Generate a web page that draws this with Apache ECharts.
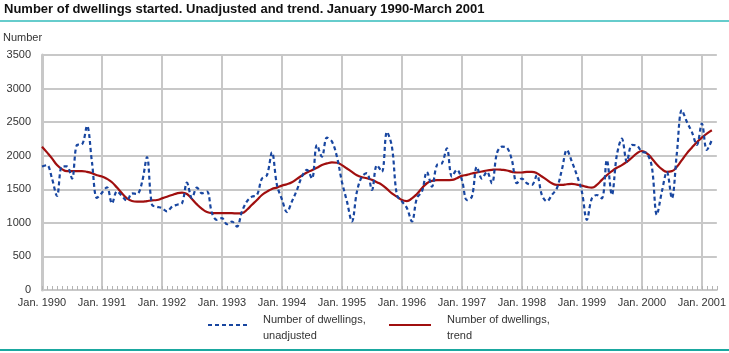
<!DOCTYPE html>
<html>
<head>
<meta charset="utf-8">
<script src="https://cdn.jsdelivr.net/npm/echarts@6/dist/echarts.min.js"></script>
<style>
* { margin: 0; padding: 0; }
body { background: #fff; }
#main { width: 729px; height: 353px; }
</style>
</head>
<body>
<!-- container for the chart -->
<div id="main"></div>
<script>
// tick labels on the x axis, one per January
var yearLabels = ["Jan. 1990", "Jan. 1991", "Jan. 1992", "Jan. 1993", "Jan. 1994", "Jan. 1995",
  "Jan. 1996", "Jan. 1997", "Jan. 1998", "Jan. 1999", "Jan. 2000", "Jan. 2001"];
var yTicks = [0, 500, 1000, 1500, 2000, 2500, 3000, 3500];

// monthly values, January 1990 - March 2001
var unadjusted = [
  1840, 1860, 1660, 1400, 1840, 1840, 1660, 2160, 2170, 2445, 1900, 1370, // 1990
  1450, 1530, 1290, 1470, 1400, 1330, 1440, 1430, 1600, 1980, 1270, 1240, // 1991
  1220, 1170, 1240, 1270, 1290, 1600, 1370, 1525, 1440, 1465, 1145, 1045, // 1992
  1070, 980, 1020, 945, 1170, 1320, 1390, 1415, 1660, 1710, 2050, 1565,   // 1993
  1350, 1160, 1320, 1490, 1690, 1790, 1660, 2160, 1985, 2270, 2210, 1985, // 1994
  1610, 1320, 1020, 1465, 1690, 1740, 1490, 1860, 1760, 2355, 2135, 1415, // 1995
  1320, 1220, 1020, 1370, 1465, 1760, 1540, 1860, 1885, 2110, 1690, 1790, // 1996
  1640, 1340, 1390, 1835, 1660, 1760, 1590, 2035, 2135, 2120, 1935, 1590, // 1997
  1660, 1590, 1565, 1710, 1415, 1320, 1415, 1515, 1790, 2085, 1910, 1710, // 1998
  1465, 1045, 1365, 1415, 1365, 1935, 1415, 2010, 2255, 1910, 2160, 2150, // 1999
  2060, 2035, 1835, 1120, 1465, 1760, 1365, 2035, 2680, 2505, 2355, 2160, // 2000
  2480, 2085, 2235                                                        // 2001
];
var trend = [
  2135, 2050, 1960, 1860, 1800, 1770, 1770, 1770, 1770, 1760, 1740, 1710,
  1690, 1655, 1605, 1525, 1440, 1365, 1325, 1315, 1315, 1325, 1335, 1340,
  1365, 1390, 1415, 1440, 1450, 1430, 1355, 1275, 1210, 1160, 1145, 1145,
  1145, 1145, 1145, 1140, 1145, 1195, 1270, 1340, 1415, 1465, 1505, 1525,
  1555, 1575, 1605, 1655, 1705, 1750, 1785, 1820, 1860, 1885, 1900, 1895,
  1860, 1810, 1760, 1710, 1680, 1665, 1640, 1605, 1565, 1505, 1440, 1390,
  1340, 1325, 1365, 1430, 1515, 1590, 1625, 1635, 1635, 1635, 1640, 1665,
  1700, 1715, 1735, 1750, 1765, 1780, 1790, 1795, 1790, 1780, 1760, 1750,
  1750, 1760, 1760, 1740, 1690, 1640, 1590, 1565, 1565, 1575, 1580, 1570,
  1555, 1535, 1525, 1565, 1640, 1710, 1770, 1820, 1860, 1910, 1970, 2035,
  2070, 2035, 1960, 1870, 1800, 1760, 1770, 1835, 1935, 2035, 2120, 2200,
  2270, 2330, 2380
];

var titleText = "Number of dwellings started. Unadjusted and trend. January 1990-March 2001";
var gridColor = "#c8c8c8";
var blue = "#1846a0";
var red = "#a00f0f";
var font = "Liberation Sans";

// one category per month, plus one empty slot so the axis runs a little past March 2001
var months = [];
for (var i = 0; i < 136; i++) {
  months.push(i % 12 === 0 ? yearLabels[i / 12] : "");
}
var isYear = function (i) { return i % 12 === 0; };

var chart = echarts.init(document.getElementById("main"));
chart.setOption({
  animation: false,
  grid: { left: 42, right: 12, top: 55, bottom: 63 },
  xAxis: {
    type: "category",
    data: months,
    boundaryGap: false,
    axisLine: { lineStyle: { color: gridColor, width: 2 } },
    axisTick: { inside: true, interval: 0, length: 4, lineStyle: { color: "#b4b4b4" } },
    axisLabel: {
      interval: function (i) { return isYear(i); },
      color: "#333", fontFamily: font, fontSize: 11, margin: 7
    },
    splitLine: {
      show: true,
      interval: function (i) { return isYear(i) && i > 0; },
      lineStyle: { color: gridColor, width: 2 }
    }
  },
  yAxis: {
    type: "value",
    min: yTicks[0],
    max: yTicks[yTicks.length - 1],
    interval: 500,
    axisLine: { show: true, lineStyle: { color: gridColor, width: 3 } },
    axisTick: { show: false },
    axisLabel: {
      color: "#333", fontFamily: font, fontSize: 11, margin: 11,
      formatter: function (v) { return String(v); }
    },
    splitLine: { lineStyle: { color: gridColor, width: 2 } }
  },
  series: [
    {
      name: "Number of dwellings, unadjusted",
      type: "line",
      data: unadjusted,
      smooth: 0.35,
      showSymbol: false,
      lineStyle: { color: blue, width: 2.2, type: [4, 3] },
      z: 3
    },
    {
      name: "Number of dwellings, trend",
      type: "line",
      data: trend,
      smooth: true,
      showSymbol: false,
      lineStyle: { color: red, width: 2.2 },
      z: 2
    }
  ],
  // title, rules, axis name and the legend
  graphic: [
    { type: "text", left: 4, top: 3, style: { text: titleText, font: "bold 13px " + font, fill: "#111" } },
    { type: "rect", left: 0, top: 20, shape: { width: 729, height: 2 }, style: { fill: "#66cccc" } },
    { type: "text", left: 3, top: 32, style: { text: "Number", font: "11px " + font, fill: "#333" } },
    { type: "line", shape: { x1: 208, y1: 325, x2: 250, y2: 325 }, style: { stroke: blue, lineWidth: 2.2, lineDash: [4, 3] } },
    { type: "text", left: 263, top: 312, style: { text: "Number of dwellings,\nunadjusted", font: "11px " + font, fill: "#333", lineHeight: 16 } },
    { type: "line", shape: { x1: 389, y1: 325, x2: 431, y2: 325 }, style: { stroke: red, lineWidth: 2.2 } },
    { type: "text", left: 447, top: 312, style: { text: "Number of dwellings,\ntrend", font: "11px " + font, fill: "#333", lineHeight: 16 } },
    { type: "rect", left: 0, top: 349, shape: { width: 729, height: 2 }, style: { fill: "#1aa8a0" } }
  ]
});
</script>
</body>
</html>
